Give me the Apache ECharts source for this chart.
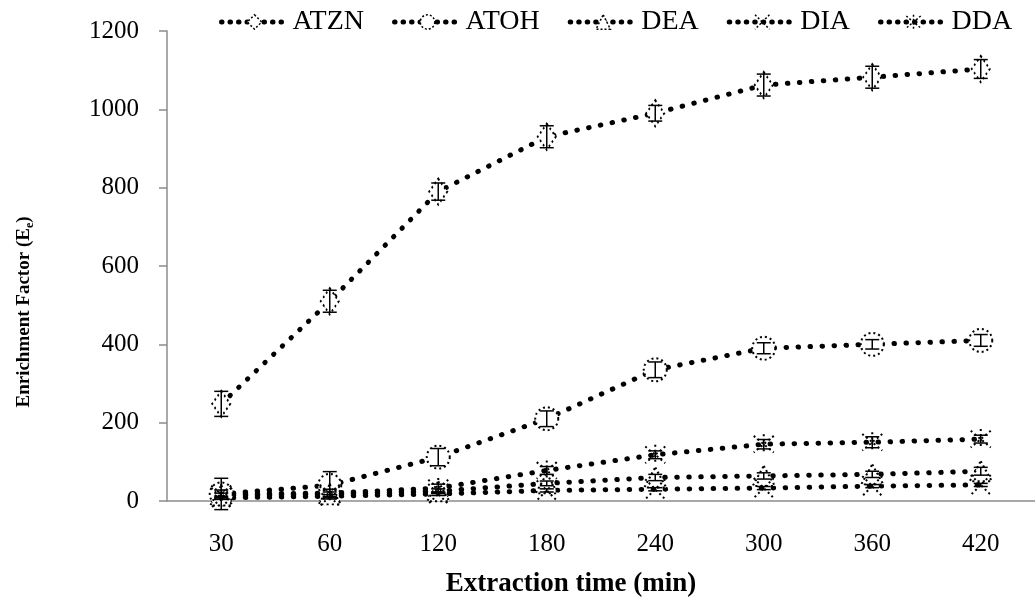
<!DOCTYPE html>
<html>
<head>
<meta charset="utf-8">
<script src="https://cdn.jsdelivr.net/npm/echarts@6/dist/echarts.min.js"></script>
<style>
  html, body { margin: 0; padding: 0; background: #fff; }
  #main { width: 1035px; height: 607px; }
</style>
</head>
<body>
<div id="main"></div>
<script>
// 提取时间 (min)
var categories = ['30', '60', '120', '180', '240', '300', '360', '420'];
// 各物质富集因子 及 误差
var atzn = [248, 510, 790, 930, 990, 1062, 1082, 1103];
var atznErr = [32, 28, 22, 28, 20, 28, 28, 24];
var atoh = [18, 40, 112, 210, 335, 390, 400, 410];
var atohErr = [40, 35, 22, 20, 20, 14, 12, 15];
var dea = [14, 17, 25, 45, 60, 64, 68, 76];
var deaErr = [6, 6, 6, 6, 8, 8, 8, 10];
var dia = [8, 12, 18, 27, 30, 33, 38, 41];
var diaErr = [4, 4, 4, 4, 4, 4, 4, 4];
var dda = [18, 20, 33, 78, 118, 145, 150, 158];
var ddaErr = [10, 10, 10, 10, 10, 12, 14, 10];
var yTicks = [0, 200, 400, 600, 800, 1000, 1200];

var FONT = '"Liberation Serif", "Times New Roman", serif';

var myChart = echarts.init(document.getElementById('main'));

var dotLine = {
    color: '#000',
    width: 5,
    type: [0.5, 11.5],
    cap: 'round'
};
var markerStyle = {
    color: '#fff',
    borderColor: '#000',
    borderWidth: 2,
    borderType: [2, 3]
};

function lineSeries(name, data, symbol, size) {
    return {
        name: name,
        type: 'line',
        data: data,
        symbol: symbol,
        symbolSize: size,
        showAllSymbol: true,
        lineStyle: dotLine,
        itemStyle: markerStyle,
        z: 2,
        emphasis: { disabled: true }
    };
}

// 误差线
function errSeries(values, errs) {
    var d = values.map(function (v, i) {
        return [i, v - errs[i], v + errs[i]];
    });
    return {
        type: 'custom',
        silent: true,
        z: 3,
        data: d,
        renderItem: function (params, api) {
            var lo = api.coord([api.value(0), api.value(1)]);
            var hi = api.coord([api.value(0), api.value(2)]);
            var w = 7;
            var st = { stroke: '#000', lineWidth: 1.5 };
            return {
                type: 'group',
                children: [
                    { type: 'line', shape: { x1: lo[0], y1: lo[1], x2: hi[0], y2: hi[1] }, style: st },
                    { type: 'line', shape: { x1: lo[0] - w, y1: lo[1], x2: lo[0] + w, y2: lo[1] }, style: st },
                    { type: 'line', shape: { x1: hi[0] - w, y1: hi[1], x2: hi[0] + w, y2: hi[1] }, style: st }
                ]
            };
        }
    };
}

var crossPath = 'path://M0,0L10,10M10,0L0,10';
var starPath = 'path://M0,0L10,10M10,0L0,10M5,-1L5,11';

option = {
    animation: false,
    legend: {
        top: 3,
        left: 214,
        itemWidth: 66,
        itemHeight: 18,
        itemGap: 28,
        lineStyle: { color: '#000', width: 5, type: [0.5, 8], cap: 'round' },
        itemStyle: { color: '#fff', borderColor: '#000', borderWidth: 1.5, borderType: [2, 2] },
        textStyle: { fontFamily: FONT, fontSize: 28, color: '#000' },
        data: ['ATZN', 'ATOH', 'DEA', 'DIA', 'DDA']
    },
    grid: {
        left: 167,
        right: -6,
        top: 31,
        bottom: 106,
        containLabel: false
    },
    xAxis: {
        type: 'category',
        data: categories,
        boundaryGap: true,
        axisLine: { lineStyle: { color: '#8c8c8c', width: 1.5 } },
        axisTick: { show: false },
        splitLine: { show: false },
        axisLabel: { fontFamily: FONT, fontSize: 25, color: '#000', margin: 31 }
    },
    yAxis: {
        type: 'value',
        min: 0,
        max: 1200,
        interval: 200,
        axisLine: { show: true, lineStyle: { color: '#8c8c8c', width: 1.5 } },
        axisTick: { show: true, length: 8, lineStyle: { color: '#8c8c8c', width: 1.5 } },
        splitLine: { show: false },
        axisLabel: {
            fontFamily: FONT, fontSize: 25, color: '#000', margin: 28,
            formatter: function (v) { return yTicks.indexOf(v) >= 0 ? String(v) : ''; }
        }
    },
    graphic: [
        {
            type: 'text',
            x: 24,
            y: 312,
            rotation: Math.PI / 2,
            style: {
                text: '{a|Enrichment Factor (E}{s|e}{a|)}',
                align: 'center',
                verticalAlign: 'middle',
                rich: {
                    a: { fontFamily: FONT, fontSize: 19, fontWeight: 'bold', fill: '#000', lineHeight: 24 },
                    s: { fontFamily: FONT, fontSize: 12, fontWeight: 'bold', fill: '#000', verticalAlign: 'bottom', lineHeight: 18 }
                }
            }
        },
        {
            type: 'text',
            x: 571,
            y: 584,
            style: {
                text: 'Extraction time (min)',
                align: 'center',
                verticalAlign: 'middle',
                fontFamily: FONT,
                fontSize: 27,
                fontWeight: 'bold',
                fill: '#000'
            }
        }
    ],
    series: [
        lineSeries('ATZN', atzn, 'diamond', [18, 26]),
        lineSeries('ATOH', atoh, 'circle', 23),
        lineSeries('DEA', dea, 'triangle', [22, 20]),
        lineSeries('DIA', dia, crossPath, [20, 20]),
        lineSeries('DDA', dda, starPath, [20, 20]),
        errSeries(atzn, atznErr),
        errSeries(atoh, atohErr),
        errSeries(dea, deaErr),
        errSeries(dia, diaErr),
        errSeries(dda, ddaErr)
    ]
};
myChart.setOption(option);
</script>
</body>
</html>
